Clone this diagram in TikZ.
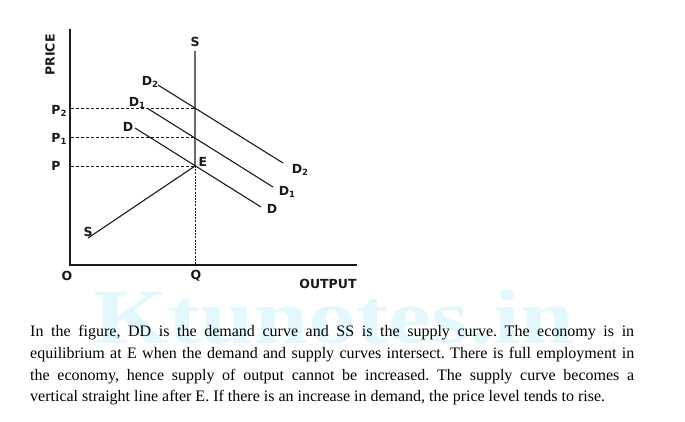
\documentclass[tikz,border=0pt]{standalone}
\usepackage{fontspec}
\setmainfont{Liberation Serif}
\newfontfamily\lblfont{DejaVu Sans}
\usepackage{tikz}
\usetikzlibrary{positioning,calc}
\definecolor{ecInk}{HTML}{1A1A1A}
\definecolor{ecMark}{HTML}{E3F8FD}
\newcommand{\lowidx}[1]{\raisebox{-2.2pt}{\fontsize{8.5}{9}\selectfont #1}}
\tikzset{
  % Axes (thick)
  axis/.style={line width=1.6pt,color=ecInk},
  % Demand and supply lines
  curve/.style={line width=1.1pt,color=ecInk},
  % Price guide lines
  guide/.style={dash pattern=on 3pt off 2pt,line width=0.9pt,color=ecInk},
  % Full-employment drop line
  drop/.style={dash pattern=on 2pt off 1.2pt,line width=1pt,color=ecInk},
  % Axis and curve labels
  lbl/.style={font=\lblfont\bfseries\fontsize{12.5}{14}\selectfont,
    inner sep=0pt,text=ecInk},
  % Caption text
  para/.style={font=\fontsize{16}{21.8}\selectfont\frenchspacing,text width=604pt,
    align=justify,inner sep=0pt,text=black},
}
\begin{document}
\begin{tikzpicture}[x=1pt,y=-1pt]
  \useasboundingbox (0,0) rectangle (685,422);

  % Watermark
  \node[font=\bfseries\fontsize{78}{80}\selectfont,text=ecMark,
    anchor=base west,inner sep=0pt,xscale=1.24] (mark) at (93,343) {Ktunotes.in};

  % Key points
  \coordinate (O) at (70,265);
  \coordinate (ytop) at (70,29);
  \coordinate (xend) at (357,265);
  \coordinate (stop) at (195,51);
  \coordinate (E) at (195,166);
  \coordinate (Q) at (195,265);
  \coordinate (s1) at (195,137);
  \coordinate (s2) at (195,108);
  \coordinate (p0) at (71,166);
  \coordinate (p1) at (71,137);
  \coordinate (p2) at (71,108);
  \coordinate (sbot) at (88,238);
  % Demand curves
  \coordinate (dA) at (135,128);  \coordinate (dB) at (261,207);
  \coordinate (d1A) at (147,108); \coordinate (d1B) at (273,187);
  \coordinate (d2A) at (158,85);  \coordinate (d2B) at (283,163);

  % Axes
  \draw[axis] (ytop) -- (O) -- (xend);

  % Price levels
  \draw[guide] (p2) -- (s2);
  \draw[guide] (p1) -- (s1);
  \draw[guide] (p0) -- (E);

  % Supply curve
  \draw[curve] (sbot) -- (E) -- (stop);
  \draw[drop] (E) -- (Q);

  % Demand curves
  \draw[curve] (dA) -- (dB);
  \draw[curve] (d1A) -- (d1B);
  \draw[curve] (d2A) -- (d2B);

  % Labels
  \node[lbl,rotate=90] (price) at (50,55) {PRICE};
  \node[lbl] (output) at (328,284) {OUTPUT};
  \node[lbl] (lO) at (67,276) {O};
  \node[lbl] (lQ) at (196,276) {Q};
  \node[lbl] (lE) at (203,162) {E};
  \node[lbl] (lS) at (195,42) {S};
  \node[lbl] (lSb) at (88,232) {S};
  \node[lbl] (lP) at (56,166) {P};
  \node[lbl] (lP1) at (59,139) {P\lowidx{1}};
  \node[lbl] (lP2) at (59,111) {P\lowidx{2}};
  \node[lbl] (lD) at (128,127) {D};
  \node[lbl] (lD1) at (137,103) {D\lowidx{1}};
  \node[lbl] (lD2) at (150,82) {D\lowidx{2}};
  \node[lbl] (rD) at (272,209) {D};
  \node[lbl] (rD1) at (287,192) {D\lowidx{1}};
  \node[lbl] (rD2) at (300,170) {D\lowidx{2}};

  % Caption
  \node[para,anchor=north west] (text) at (30,325)
    {In the figure, DD is the demand curve and SS is the supply curve. The economy is in\linebreak
     equilibrium at E when the demand and supply curves intersect. There is full employment in\linebreak
     the economy, hence supply of output cannot be increased. The supply curve becomes a\linebreak
     vertical straight line after E. If there is an increase in demand, the price level tends to rise.};
\end{tikzpicture}
\end{document}
